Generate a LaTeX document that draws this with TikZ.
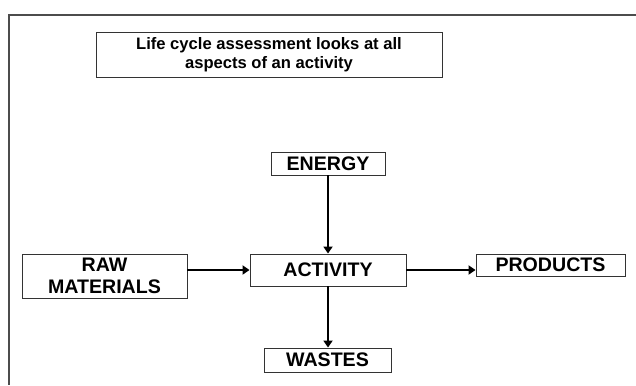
\documentclass[tikz,border=0pt]{standalone}
\usepackage{fontspec}
\setmainfont{Liberation Sans}
\usetikzlibrary{arrows.meta}
\begin{document}
\begin{tikzpicture}[x=1pt,y=-1pt,
  box/.style={draw=black!80,line width=0.9pt,inner sep=0pt,align=center,
    font=\fontsize{19.6}{22.5}\selectfont\bfseries},
  conn/.style={line width=2.8pt,-{Triangle[length=7pt,width=9pt]}}]
\useasboundingbox (0,0) rectangle (636,385);
\draw[black!70,line width=2pt] (636,15) -- (8.5,15) -- (8.5,385);
\node[box,minimum width=346pt,minimum height=45pt,font=\fontsize{16.6}{18.5}\selectfont\bfseries] (title) at (269,54.5) {Life cycle assessment looks at all\\aspects of an activity};
\node[box,minimum width=114pt,minimum height=23pt] (energy) at (328,163.5) {ENERGY};
\node[box,minimum width=156pt,minimum height=32pt] (activity) at (328,270) {ACTIVITY};
\node[box,minimum width=165pt,minimum height=44pt] (raw) at (104.5,276) {RAW\\MATERIALS};
\node[box,minimum width=149pt,minimum height=22pt] (products) at (550.5,265) {PRODUCTS};
\node[box,minimum width=127pt,minimum height=24pt] (wastes) at (327.5,360) {WASTES};
\draw[conn] (energy.south) -- (activity.north);
\draw[conn] (raw.east |- activity.west) -- (activity.west);
\draw[conn] (activity.east) -- (products.west |- activity.east);
\draw[conn] (activity.south) -- (wastes.north -| activity.south);
\end{tikzpicture}
\end{document}
